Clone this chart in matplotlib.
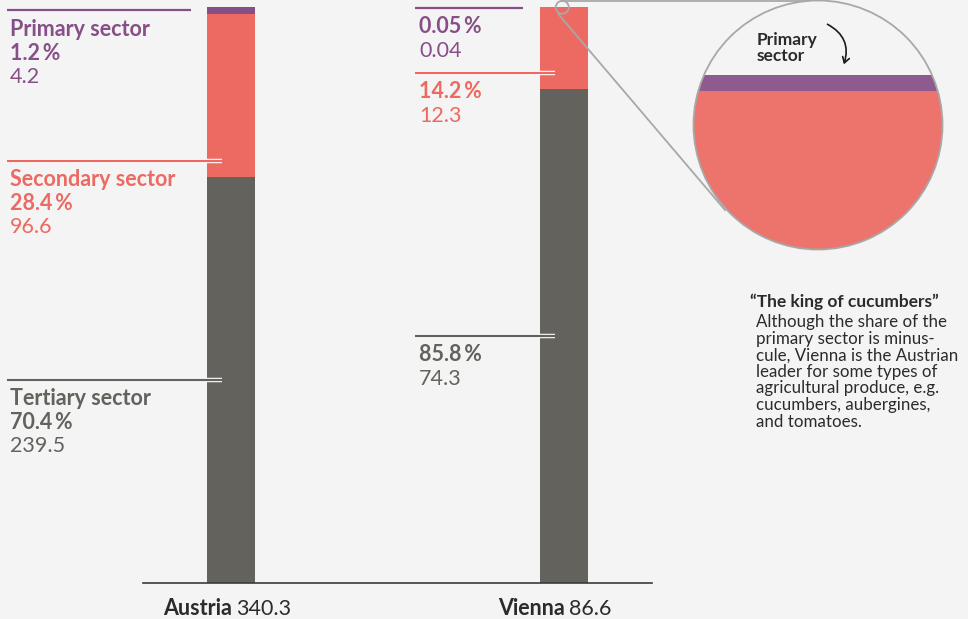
import matplotlib.pyplot as plt
from matplotlib.patches import Circle, FancyArrowPatch
import matplotlib.patheffects as pe
import numpy as np

# Data
regions = ['Austria', 'Vienna']
totals = ['340.3', '86.6']
sectors = ['Primary sector', 'Secondary sector', 'Tertiary sector']
share_austria = [1.2, 28.4, 70.4]
share_vienna = [0.05, 14.2, 85.8]
value_austria = ['4.2', '96.6', '239.5']
value_vienna = ['0.04', '12.3', '74.3']
pct_austria = ['1.2\u2009%', '28.4\u2009%', '70.4\u2009%']
pct_vienna = ['0.05\u2009%', '14.2\u2009%', '85.8\u2009%']

purple = '#874f88'
salmon = '#ec6a62'
grey = '#64625d'
bg = '#f4f4f4'
dark = '#2b2b2b'
colors = [purple, salmon, grey]

plt.rcParams['font.family'] = ['Lato', 'DejaVu Sans']

W, H = 968, 619
fig = plt.figure(figsize=(W / 100, H / 100), dpi=100)
fig.patch.set_facecolor(bg)

# bar axes: x in pixels, y in percent (bottom at px 583, top at px 7)
ax = fig.add_axes([0, (H - 583) / H, 1, 576 / H])
ax.set_xlim(0, W)
ax.set_ylim(0, 100)
ax.axis('off')

bar_x = [231, 563.5]
bar_w = 48
for x, shares in zip(bar_x, [share_austria, share_vienna]):
    # stack from the bottom: tertiary, secondary, primary on top
    bottom = 0
    for i in [2, 1, 0]:
        ax.bar(x, shares[i], bottom=bottom, width=bar_w, color=colors[i],
               linewidth=0)
        bottom += shares[i]

# overlay axes in pixel coordinates
ov = fig.add_axes([0, 0, 1, 1], zorder=5)
ov.set_xlim(0, W)
ov.set_ylim(H, 0)
ov.axis('off')
ov.patch.set_alpha(0)

# baseline
ov.plot([143, 652], [583, 583], color='#3a3a3a', lw=1.2)

white_edge = [pe.Stroke(linewidth=3.2, foreground='white'), pe.Normal()]
FS = 15.5

# Austria labels
a_lines = [(7, 191, 10), (7, 222, 161), (7, 222, 380)]
a_base = [36, 186, 405]
for i in range(3):
    x0, x1, ly = a_lines[i]
    ov.plot([x0, x1], [ly, ly], color=colors[i], lw=1.6,
            path_effects=white_edge if i else None, solid_capstyle='butt')
    b = a_base[i]
    ov.text(10, b, sectors[i], color=colors[i], fontsize=FS, weight='bold',
            va='baseline', ha='left')
    ov.text(10, b + 24, pct_austria[i], color=colors[i], fontsize=FS,
            weight='bold', va='baseline', ha='left')
    ov.text(10, b + 47, value_austria[i], color=colors[i], fontsize=FS,
            va='baseline', ha='left')

# Vienna labels
v_lines = [(415, 523, 8), (415, 555, 73), (415, 555, 336)]
v_base = [33, 98, 361]
for i in range(3):
    x0, x1, ly = v_lines[i]
    ov.plot([x0, x1], [ly, ly], color=colors[i], lw=1.6,
            path_effects=white_edge if i else None, solid_capstyle='butt')
    b = v_base[i]
    ov.text(419, b, pct_vienna[i], color=colors[i], fontsize=FS,
            weight='bold', va='baseline', ha='left')
    ov.text(419, b + 24, value_vienna[i], color=colors[i], fontsize=FS,
            va='baseline', ha='left')

# country labels
for x, name, tot in zip(bar_x, regions, totals):
    ov.text(x + 1, 615, name, fontsize=FS, weight='bold', color=dark,
            ha='right', va='baseline')
    ov.text(x + 5, 615, tot, fontsize=FS, color=dark, ha='left',
            va='baseline')

# zoom indicator
ov.add_patch(Circle((562.3, 7.3), 6.5, fill=False, edgecolor='#a8a8a8', lw=1.3))
ov.plot([562.3, 818], [1, 1], color='#a8a8a8', lw=1.3)
ov.plot([558.3, 725], [14, 210], color='#a8a8a8', lw=1.3)

# magnified inset, clipped to a circle
cx, cy, r = 818, 125, 124.5
top = sum(share_vienna)
scale = 16 / share_vienna[0]  # px per percent in the inset
ins = fig.add_axes([(cx - r) / W, (H - cy - r) / H, 2 * r / W, 2 * r / H],
                   zorder=6)
ins.set_facecolor(bg)
ins.set_xlim(563.5 - 3, 563.5 + 3)
ins.set_ylim(top - 175 / scale, top + 75 / scale)
ins.axis('off')
clip = Circle((0.5, 0.5), 0.5, transform=ins.transAxes)
ins.add_patch(Circle((0.5, 0.5), 0.5, transform=ins.transAxes, facecolor=bg,
                     edgecolor='none'))
bottom = 0
for i in [2, 1, 0]:
    bars = ins.bar(563.5, share_vienna[i], bottom=bottom, width=bar_w,
                   color=colors[i], linewidth=0, alpha=0.93)
    for p in bars:
        p.set_clip_path(clip)
    bottom += share_vienna[i]
ins.add_patch(Circle((0.5, 0.5), 0.5, transform=ins.transAxes, fill=False,
                     edgecolor='#a8a8a8', lw=1.3, clip_on=False))

ov2 = fig.add_axes([0, 0, 1, 1], zorder=7)
ov2.set_xlim(0, W)
ov2.set_ylim(H, 0)
ov2.axis('off')
ov2.patch.set_alpha(0)
ov2.text(757, 45, 'Primary', fontsize=12.5, weight='bold', color=dark,
         va='baseline')
ov2.text(757, 61, 'sector', fontsize=12.5, weight='bold', color=dark,
         va='baseline')
ov2.add_patch(FancyArrowPatch((825, 23), (843, 67),
                              connectionstyle='arc3,rad=-0.45',
                              arrowstyle='->,head_length=4,head_width=2.5',
                              color='#1a1a1a', lw=1.2))

# note
ov2.text(750, 307, '\u201cThe king of cucumbers\u201d', fontsize=12.5,
         weight='bold', color=dark, va='baseline')
note = ['Although the share of the', 'primary sector is minus-',
        'cule, Vienna is the Austrian', 'leader for some types of',
        'agricultural produce, e.g.', 'cucumbers, aubergines,',
        'and tomatoes.']
for k, line in enumerate(note):
    ov2.text(756, 327 + k * 16.6, line, fontsize=12.2, color=dark,
             va='baseline')

fig.savefig('out.png', dpi=100, facecolor=bg)
